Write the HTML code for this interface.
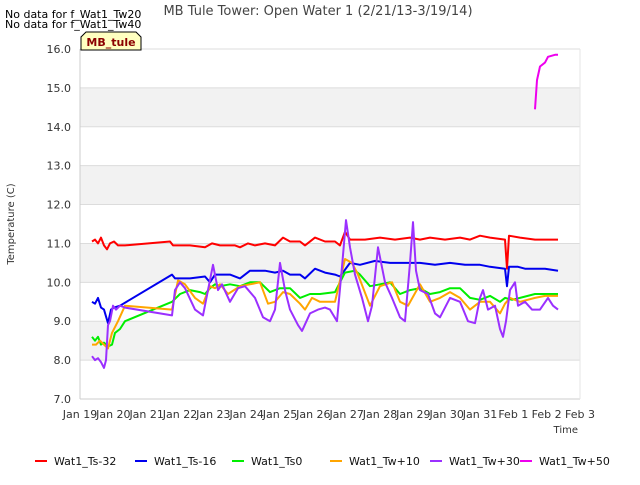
<!DOCTYPE html>
<html><head><meta charset="utf-8"><style>
body{margin:0;background:#fff;font-family:"Liberation Sans","DejaVu Sans",sans-serif}
svg text{font-family:"DejaVu Sans","Liberation Sans",sans-serif}
</style></head><body>
<svg id="chart" width="640" height="480" xmlns="http://www.w3.org/2000/svg">
<g id="bands"></g><g id="grid"></g><g id="series"></g><g id="axes"></g><g id="legend"></g>
</svg>
<script>
const xTickLabels=["Jan 19","Jan 20","Jan 21","Jan 22","Jan 23","Jan 24","Jan 25","Jan 26","Jan 27","Jan 28","Jan 29","Jan 30","Jan 31","Feb 1","Feb 2","Feb 3"];
const yTicks=[7,8,9,10,11,12,13,14,15,16];
const seriesNames=["Wat1_Ts-32","Wat1_Ts-16","Wat1_Ts0","Wat1_Tw+10","Wat1_Tw+30","Wat1_Tw+50"];
const seriesColors=["#ff0000","#0000ee","#00ee00","#ffa500","#9b30ff","#ee00ee"];
const ts32Days=[.36,.45,.54,.63,.72,.81,.9,1.02,1.14,1.35,2.7,2.79,3.3,3.75,3.96,4.2,4.65,4.8,5.04,5.25,5.55,5.85,6.09,6.3,6.6,6.75,7.05,7.35,7.65,7.8,7.95,8.1,8.55,9,9.45,9.9,10.2,10.5,10.95,11.4,11.7,12,12.3,12.75,12.81,12.87,13.2,13.65,14.34];
const ts32Vals=[11.05,11.1,11,11.15,10.95,10.85,11,11.05,10.95,10.95,11.05,10.95,10.95,10.9,11,10.95,10.95,10.9,11,10.95,11,10.95,11.15,11.05,11.05,10.95,11.15,11.05,11.05,10.95,11.3,11.1,11.1,11.15,11.1,11.15,11.1,11.15,11.1,11.15,11.1,11.2,11.15,11.1,10.35,11.2,11.15,11.1,11.1];
const ts16Days=[.36,.45,.54,.63,.72,.84,.93,1.02,1.2,2.76,2.85,3.3,3.75,3.9,4.05,4.5,4.8,5.1,5.55,5.85,6.09,6.3,6.6,6.75,7.05,7.35,7.65,7.8,8.1,8.4,8.85,9.3,9.9,10.2,10.65,11.1,11.55,12,12.3,12.75,12.81,12.87,13.14,13.35,13.95,14.34];
const ts16Vals=[9.5,9.45,9.6,9.35,9.3,8.95,9.3,9.35,9.4,10.2,10.1,10.1,10.15,10,10.2,10.2,10.1,10.3,10.3,10.25,10.3,10.2,10.2,10.1,10.35,10.25,10.2,10.15,10.5,10.45,10.55,10.5,10.5,10.5,10.45,10.5,10.45,10.45,10.4,10.35,9.9,10.4,10.4,10.35,10.35,10.3];
const ts0Days=[.36,.45,.54,.63,.72,.84,.96,1.05,1.2,1.35,2.76,3,3.3,3.6,3.75,3.9,4.05,4.2,4.5,4.8,5.1,5.4,5.7,6,6.3,6.6,6.9,7.2,7.65,7.95,8.25,8.4,8.7,9,9.3,9.6,9.9,10.2,10.5,10.8,11.1,11.4,11.7,12,12.3,12.6,12.75,12.96,13.2,13.65,14.34];
const ts0Vals=[8.6,8.5,8.6,8.4,8.45,8.35,8.4,8.7,8.8,9,9.5,9.7,9.8,9.75,9.7,9.85,9.95,9.9,9.95,9.9,10,10,9.75,9.85,9.85,9.6,9.7,9.7,9.75,10.25,10.3,10.2,9.9,9.95,10,9.7,9.8,9.85,9.7,9.75,9.85,9.85,9.6,9.55,9.65,9.5,9.6,9.55,9.6,9.7,9.7];
const tw10Days=[.36,.48,.6,.72,.84,.96,1.14,1.35,2.76,2.94,3.15,3.45,3.69,3.9,4.05,4.2,4.44,4.8,5.1,5.4,5.64,5.85,6.09,6.3,6.6,6.75,6.96,7.2,7.65,7.95,8.16,8.34,8.7,9,9.36,9.6,9.84,10.2,10.5,10.8,11.1,11.4,11.7,12,12.3,12.6,12.75,12.9,13.2,13.65,13.95,14.34];
const tw10Vals=[8.4,8.4,8.5,8.4,8.3,8.7,9,9.4,9.3,10.05,9.95,9.6,9.45,9.9,9.85,9.95,9.7,9.9,9.95,10,9.45,9.5,9.75,9.7,9.45,9.3,9.6,9.5,9.5,10.6,10.5,10.2,9.4,9.9,10,9.5,9.4,9.95,9.5,9.6,9.75,9.6,9.3,9.5,9.5,9.2,9.45,9.6,9.5,9.6,9.65,9.65];
const tw30Days=[.36,.45,.54,.63,.72,.78,.84,.9,.99,1.08,1.2,1.35,2.76,2.85,3,3.15,3.45,3.69,3.84,3.99,4.14,4.26,4.5,4.74,4.95,5.25,5.49,5.7,5.85,6,6.15,6.3,6.54,6.66,6.9,7.14,7.35,7.5,7.71,7.86,7.98,8.1,8.25,8.46,8.64,8.76,8.94,9.15,9.36,9.6,9.75,9.9,9.99,10.08,10.2,10.44,10.65,10.8,11.1,11.4,11.64,11.85,12,12.09,12.24,12.45,12.6,12.69,12.78,12.9,13.05,13.14,13.35,13.56,13.8,14.04,14.19,14.34];
const tw30Vals=[8.1,8,8.05,7.95,7.8,8,8.9,9,9.4,9.3,9.4,9.35,9.15,9.8,10,9.85,9.3,9.15,9.8,10.45,9.8,9.95,9.5,9.85,9.9,9.6,9.1,9,9.3,10.5,9.8,9.3,8.9,8.75,9.2,9.3,9.35,9.3,9,10.4,11.6,10.9,10.2,9.6,9,9.4,10.9,10,9.6,9.1,9,10.5,11.55,10.3,9.8,9.7,9.2,9.1,9.6,9.5,9,8.95,9.6,9.8,9.3,9.4,8.8,8.6,9,9.8,10,9.4,9.5,9.3,9.3,9.6,9.4,9.3];
const tw50Days=[13.65,13.71,13.8,13.95,14.04,14.25,14.34];
const tw50Vals=[14.45,15.2,15.55,15.65,15.8,15.85,15.85];
const allDays=[ts32Days,ts16Days,ts0Days,tw10Days,tw30Days,tw50Days];
const allVals=[ts32Vals,ts16Vals,ts0Vals,tw10Vals,tw30Vals,tw50Vals];

const NS="http://www.w3.org/2000/svg";
const L=80,R=580,T=49,B=399;
const xs=d=>L+d*(R-L)/15;
const ys=v=>B-(v-7)*(B-T)/9;
function mk(tag,attrs,parent,txt){const e=document.createElementNS(NS,tag);for(const k in attrs)e.setAttribute(k,attrs[k]);if(txt!==undefined)e.textContent=txt;parent.appendChild(e);return e;}
const svg=document.getElementById('chart');
const bands=document.getElementById('bands'),grid=document.getElementById('grid'),axes=document.getElementById('axes'),ser=document.getElementById('series'),leg=document.getElementById('legend');
mk('rect',{x:L,y:T,width:R-L,height:B-T,fill:'#fff'},bands);
for(let v=8;v<16;v+=2){const r=mk('rect',{x:L,y:ys(v+1),width:R-L,height:ys(v)-ys(v+1),fill:'#f2f2f2'},bands);

}
yTicks.forEach(v=>{const l=mk('line',{x1:L,x2:R,y1:ys(v),y2:ys(v),stroke:'#dcdcdc','stroke-width':1},grid);


const t=mk('text',{x:L-9,y:ys(v)+4,'text-anchor':'end','font-size':11,fill:'#333'},axes,v.toFixed(1));

});
xTickLabels.forEach((s,i)=>{const t=mk('text',{x:xs(i),y:418,'text-anchor':'middle','font-size':11,fill:'#333'},axes,s);

});
mk('line',{x1:L,x2:L,y1:T,y2:B,stroke:'#ccc'},axes);
mk('line',{x1:L,x2:R,y1:B,y2:B,stroke:'#ccc'},axes);
mk('line',{x1:R,x2:R,y1:T,y2:B,stroke:'#e6e6e6'},axes);
allDays.forEach((days,i)=>{const pts=days.map((d,j)=>xs(d).toFixed(1)+','+ys(allVals[i][j]).toFixed(1)).join(' ');
const p=mk('polyline',{points:pts,fill:'none',stroke:seriesColors[i],'stroke-width':2,'stroke-linejoin':'round'},ser);

});
const lx=[35,135,232,330,430,520];
seriesNames.forEach((n,i)=>{const g=mk('g',{},leg);


mk('line',{x1:lx[i],x2:lx[i]+12,y1:461,y2:461,stroke:seriesColors[i],'stroke-width':2},g);
mk('text',{x:lx[i]+19,y:465,'font-size':11,fill:'#111'},g,n);});
</script>
<svg width="640" height="480" style="position:absolute;left:0;top:0" xmlns="http://www.w3.org/2000/svg">
<text x="318" y="15" text-anchor="middle" font-size="13" fill="#444">MB Tule Tower: Open Water 1 (2/21/13-3/19/14)</text>
<text x="5" y="18" font-size="11" fill="#000">No data for f_Wat1_Tw20</text>
<text x="5" y="28" font-size="11" fill="#000">No data for f_Wat1_Tw40</text>
<path d="M81,50 L81,37 L86,32 L136,32 L141,37 L141,50 Z" fill="#ffffc0" stroke="#000"/>
<text x="111" y="46" text-anchor="middle" font-size="11" font-weight="bold" fill="#8b0000">MB_tule</text>
<text x="14" y="224" text-anchor="middle" font-size="10" fill="#333" transform="rotate(-90 14 224)">Temperature (C)</text>
<text x="578" y="433" text-anchor="end" font-size="10" fill="#333">Time</text>
</svg>
</body></html>
